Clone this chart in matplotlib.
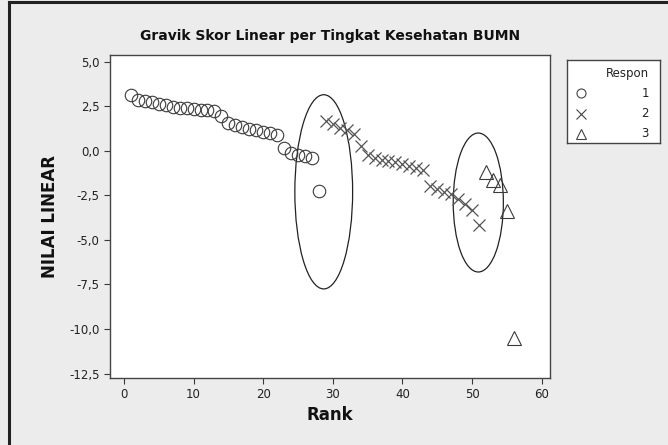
import matplotlib
matplotlib.use("Agg")
import matplotlib.pyplot as plt
from matplotlib.patches import Ellipse
from matplotlib.lines import Line2D
from matplotlib.ticker import FuncFormatter

# data
rank1 = list(range(1, 29))
skor1 = [3.16, 2.88, 2.80, 2.72, 2.63, 2.55, 2.47, 2.42, 2.38, 2.35, 2.30, 2.27, 2.22,
         1.95, 1.55, 1.45, 1.35, 1.25, 1.17, 1.08, 1.00, 0.88,
         0.15, -0.10, -0.25, -0.30, -0.38, -2.25]
rank2 = list(range(29, 52))
skor2 = [1.65, 1.50, 1.30, 1.15, 0.95, 0.30,
         -0.25, -0.40, -0.50, -0.55, -0.62, -0.72, -0.85, -0.98, -1.10,
         -2.00, -2.12, -2.30, -2.45, -2.70, -3.00, -3.30, -4.18]
rank3 = list(range(52, 57))
skor3 = [-1.20, -1.65, -1.90, -3.35, -10.50]
respon = ["1", "2", "3"]

bg = "#ececec"
ink = "#3a3a3a"

fig = plt.figure(figsize=(6.68, 4.45), dpi=100, facecolor=bg)
ax = fig.add_axes([110/668, 1-378/445, 440/668, 323/445])
ax.set_facecolor("white")

ax.plot(rank1, skor1, "o", ms=9, mfc="none", mec=ink, mew=0.8, ls="none")
ax.plot(rank2, skor2, "x", ms=8.5, mec="#555555", mew=0.9, ls="none")
ax.plot(rank3, skor3, "^", ms=10, mfc="none", mec=ink, mew=0.8, ls="none")

ax.add_patch(Ellipse((28.7, -2.3), 8.3, 10.9, fill=False, ec="#222222", lw=0.9))
ax.add_patch(Ellipse((50.9, -2.9), 7.2, 7.8, fill=False, ec="#222222", lw=0.9))

ax.set_xlim(-2.0, 61.2)
ax.set_ylim(-12.75, 5.38)
ax.set_xticks(range(0, 61, 10))
ax.set_yticks([5.0, 2.5, 0.0, -2.5, -5.0, -7.5, -10.0, -12.5])
ax.yaxis.set_major_formatter(FuncFormatter(lambda v, p: f"{v:.1f}".replace(".", ",")))
ax.tick_params(direction="out", length=4, width=0.8, color=ink, labelsize=8.5, labelcolor="#222222")
for s in ax.spines.values():
    s.set_color("#444444")
    s.set_linewidth(1.0)

ax.set_title("Gravik Skor Linear per Tingkat Kesehatan BUMN", fontsize=10, fontweight="bold",
             color="#111111", pad=11)
ax.set_ylabel("NILAI LINEAR", fontsize=12, fontweight="bold", color="#111111", labelpad=7)
ax.set_xlabel("Rank", fontsize=12, fontweight="bold", color="#111111", labelpad=3)

# legend box
lg = fig.add_axes([567/668, 1-143/445, 93/668, 83/445])
lg.set_facecolor("white")
lg.set_xlim(0, 1)
lg.set_ylim(0, 1)
lg.set_xticks([])
lg.set_yticks([])
for s in lg.spines.values():
    s.set_color("#444444")
    s.set_linewidth(1.0)
lg.text(0.88, 0.84, "Respon", ha="right", va="center", fontsize=8.5, color="#222222")
mk = ["o", "x", "^"]
ys = [0.60, 0.35, 0.11]
for m, lab, y in zip(mk, respon, ys):
    lg.plot([0.15], [y], m, ms=6.5, mfc="none", mec="#444444", mew=0.8)
    lg.text(0.88, y, lab, ha="right", va="center", fontsize=8.5, color="#222222")

# window border
fig.add_artist(Line2D([9/668, 9/668], [0, 1-2/445], color="#222222", lw=2.2))
fig.add_artist(Line2D([9/668, 1], [1-2/445, 1-2/445], color="#222222", lw=2.2))

fig.savefig("out.png", dpi=100, facecolor=bg)
